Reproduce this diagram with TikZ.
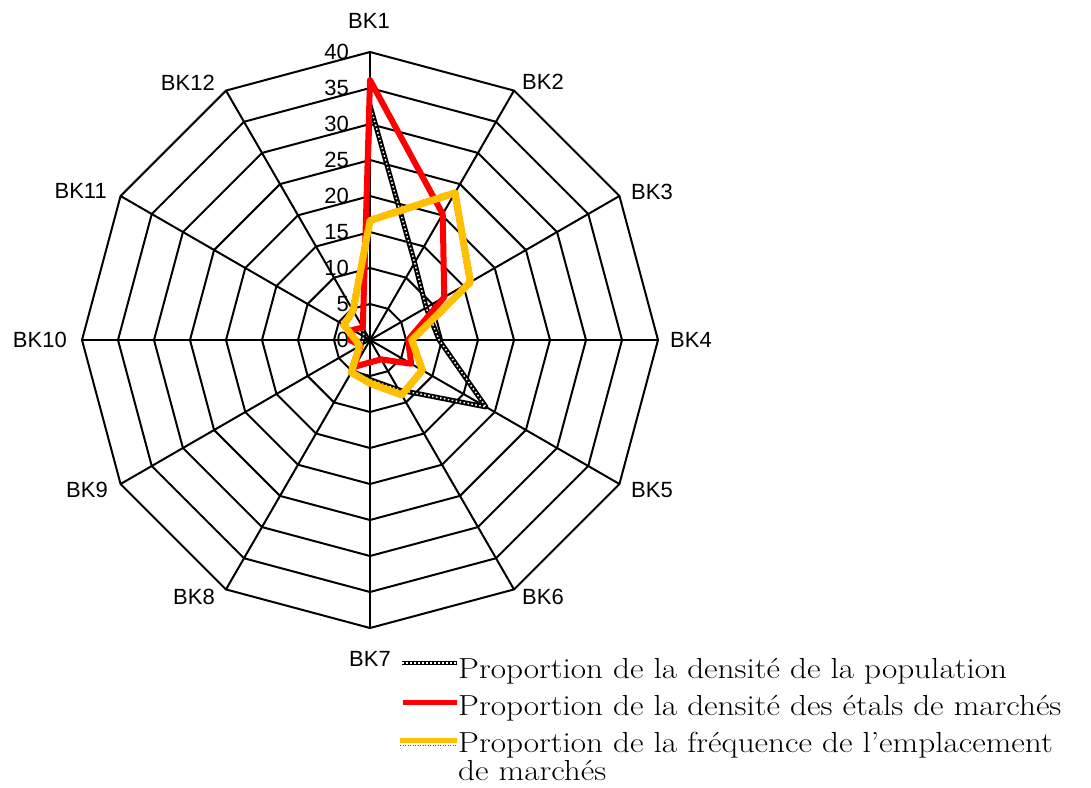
\documentclass[tikz,border=0pt]{standalone}
\usepackage{fontspec}
\newfontfamily\arial{Liberation Sans}
\definecolor{gold}{RGB}{255,192,0}
\begin{document}
\begin{tikzpicture}[x=1pt,y=-1pt,
  gridline/.style={line width=2pt, black, line join=miter},
  axlabel/.style={font=\arial\fontsize{22}{26}\selectfont, inner sep=0pt},
  ticklabel/.style={font=\arial\fontsize{22}{26}\selectfont, inner sep=0pt, anchor=east},
  legtext/.style={font=\rmfamily\fontsize{29}{33}\selectfont, inner sep=0pt, anchor=base west, xscale=1.145, transform shape},
  popline/.style={line width=5pt, black, line join=round},
  popdots/.style={line width=1.5pt, white, dash pattern=on 1.5pt off 2.5pt, line join=round},
  stalls/.style={line width=6pt, red, line join=round},
  freqred/.style={line width=7pt, red, dash pattern=on 1pt off 2pt, line join=round},
  freq/.style={line width=7pt, gold, line join=round}]
\useasboundingbox (0,0) rectangle (1091,787);
\coordinate (c) at (370,340);
% rings
\foreach \r in {1,...,8}{
  \draw[gridline] (370,{340-36*\r}) \foreach \k in {1,...,11}{ -- ({370+36*\r*sin(30*\k)},{340-36*\r*cos(30*\k)}) } -- cycle;
}
% spokes
\foreach \k in {0,...,11}{
  \coordinate (v\k) at ({370+288*sin(30*\k)},{340-288*cos(30*\k)});
  \draw[gridline] (c) -- (v\k);
}
% tick labels
\foreach \v [count=\i from 0] in {0,5,...,40}{
  \node[ticklabel] (t\i) at (349,{340-7.2*\v}) {\v};
}
% axis labels
\node[axlabel] (bk1) at (369,21) {BK1};
\node[axlabel, anchor=west] (bk2) at (522,82) {BK2};
\node[axlabel, anchor=west] (bk3) at (631,192) {BK3};
\node[axlabel, anchor=west] (bk4) at (670,340) {BK4};
\node[axlabel, anchor=west] (bk5) at (631,490) {BK5};
\node[axlabel, anchor=west] (bk6) at (522,597) {BK6};
\node[axlabel] (bk7) at (370,659) {BK7};
\node[axlabel, anchor=east] (bk8) at (215,597) {BK8};
\node[axlabel, anchor=east] (bk9) at (108,490) {BK9};
\node[axlabel, anchor=east] (bk10) at (67,340) {BK10};
\node[axlabel, anchor=east] (bk11) at (107,191) {BK11};
\node[axlabel, anchor=east] (bk12) at (215,83) {BK12};
% data points
\foreach \v [count=\k from 0] in {32.6,12.4,9,9.6,18.6,8,5.5,5,1.5,1,1,2}{
  \coordinate (p\k) at ({370+7.2*\v*sin(30*\k)},{340-7.2*\v*cos(30*\k)});
}
\foreach \v [count=\k from 0] in {36.1,20.2,11.9,5.3,6.6,3.1,3.1,4.3,1.5,2.8,2.8,2}{
  \coordinate (s\k) at ({370+7.2*\v*sin(30*\k)},{340-7.2*\v*cos(30*\k)});
}
\foreach \v [count=\k from 0] in {16.6,23.6,16.1,5.8,8.4,8.8,6,5.2,1.7,2,4.2,4.7}{
  \coordinate (f\k) at ({370+7.2*\v*sin(30*\k)},{340-7.2*\v*cos(30*\k)});
}
\draw[popline] (p0)--(p1)--(p2)--(p3)--(p4)--(p5)--(p6)--(p7)--(p8)--(p9)--(p10)--(p11)--cycle;
\draw[popdots] (p0)--(p1)--(p2)--(p3)--(p4)--(p5)--(p6)--(p7)--(p8)--(p9)--(p10)--(p11)--cycle;
\draw[stalls] (s0)--(s1)--(s2)--(s3)--(s4)--(s5)--(s6)--(s7)--(s8)--(s9)--(s10)--(s11)--cycle;
\begin{scope}[shift={(1.2,1.2)}]
\draw[freqred] (f0)--(f1)--(f2)--(f3)--(f4)--(f5)--(f6)--(f7)--(f8)--(f9)--(f10)--(f11)--cycle;
\end{scope}
\draw[freq] (f0)--(f1)--(f2)--(f3)--(f4)--(f5)--(f6)--(f7)--(f8)--(f9)--(f10)--(f11)--cycle;
% legend
\coordinate (l1a) at (402,663); \coordinate (l1b) at (457,663);
\coordinate (l2a) at (403,702); \coordinate (l2b) at (457,702);
\coordinate (l3a) at (400,740); \coordinate (l3b) at (457,740);
\coordinate (l3c) at (400,745.5); \coordinate (l3d) at (457,745.5);
\draw[popline, line width=4.5pt] (l1a) -- (l1b);
\draw[popdots, line width=1.5pt] (l1a) -- (l1b);
\draw[stalls, line width=5pt] (l2a) -- (l2b);
\draw[line width=1.3pt, red, dash pattern=on 1pt off 1.5pt] (l3c) -- (l3d);
\draw[line width=5pt, gold] (l3a) -- (l3b);
\node[legtext] (leg1) at (458,678) {Proportion de la densité de la population};
\node[legtext] (leg2) at (458,715) {Proportion de la densité des étals de marchés};
\node[legtext] (leg3) at (458,752) {Proportion de la fréquence de l’emplacement};
\node[legtext] (leg4) at (458,780) {de marchés};
\end{tikzpicture}
\end{document}
